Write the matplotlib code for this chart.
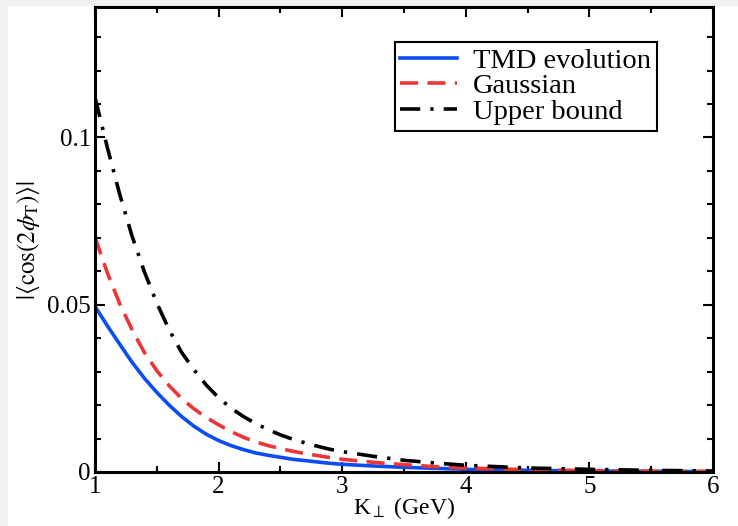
# cos(2phi_T) asymmetry vs K_perp, three curves
import matplotlib
matplotlib.use('Agg')
import matplotlib.pyplot as plt
from matplotlib.patches import Rectangle

plt.rcParams['font.family'] = ['Liberation Serif', 'DejaVu Serif']
plt.rcParams['mathtext.fontset'] = 'stix'

k_perp = [1.0, 1.1, 1.2, 1.3, 1.4, 1.5, 1.6, 1.7, 1.8, 1.9,
          2.0, 2.1, 2.2, 2.3, 2.4, 2.5, 2.6, 2.7, 2.8, 2.9,
          3.0, 3.25, 3.5, 3.75, 4.0, 4.5, 5.0, 5.5, 6.0]
tmd_evolution = [0.0495, 0.0437, 0.0382, 0.0328, 0.0280, 0.0238, 0.0200, 0.0166, 0.0137, 0.0113,
                 0.0094, 0.0079, 0.0067, 0.0057, 0.0050, 0.0044, 0.0038, 0.0034, 0.0030, 0.0026,
                 0.0023, 0.0018, 0.0014, 0.0011, 0.0008, 0.0005, 0.0003, 0.0002, 0.0001]
gaussian = [0.0702, 0.0595, 0.0503, 0.0425, 0.0357, 0.0303, 0.0258, 0.0220, 0.0189, 0.0163,
            0.0141, 0.0121, 0.0104, 0.0090, 0.0079, 0.0070, 0.0062, 0.0055, 0.0049, 0.0043,
            0.0038, 0.0029, 0.0022, 0.0016, 0.0012, 0.0007, 0.0004, 0.00025, 0.00015]
upper_bound = [0.1120, 0.0970, 0.0830, 0.0705, 0.0598, 0.0505, 0.0425, 0.0358, 0.0306, 0.0260,
               0.0222, 0.0191, 0.0166, 0.0145, 0.0127, 0.0111, 0.0098, 0.0087, 0.0077, 0.0068,
               0.0061, 0.0047, 0.0035, 0.0027, 0.0020, 0.0012, 0.0008, 0.0005, 0.0003]

fig = plt.figure(figsize=(7.38, 5.26), dpi=100)
fig.patch.set_facecolor('#f2f2f2')
# white page area (screenshot look)
page = Rectangle((8 / 738, 0), 1, 1 - 6 / 526, transform=fig.transFigure,
                 facecolor='white', edgecolor='none', zorder=-10)
fig.add_artist(page)

ax = fig.add_axes([95 / 738, 54 / 526, 618 / 738, 465 / 526])
ax.set_zorder(1)

ax.plot(k_perp, tmd_evolution, color='#0b4cf5', lw=2.6, label='TMD evolution')
ax.plot(k_perp, gaussian, color='#ee3535', lw=2.6, dashes=(5.0, 2.6), label='Gaussian')
ax.plot(k_perp, upper_bound, color='black', lw=2.6, dashes=(5.6, 2.8, 0.9, 2.8),
        label='Upper bound')

ax.set_xlim(1, 6)
ax.set_ylim(0, 0.139)
ax.set_xticks([1, 2, 3, 4, 5, 6])
ax.set_xticks([1.5, 2.5, 3.5, 4.5, 5.5], minor=True)
ax.set_yticks([0, 0.05, 0.1])
ax.set_yticklabels(['0', '0.05', '0.1'])
ax.set_yticks([i * 0.01 for i in range(1, 14)], minor=True)
ax.tick_params(which='both', direction='in', top=True, right=True, width=1.5,
               labelsize=18)
ax.tick_params(axis='x', pad=3)
ax.tick_params(axis='y', pad=3)
ax.tick_params(which='major', length=7)
ax.tick_params(which='minor', length=4.5)
for s in ax.spines.values():
    s.set_linewidth(2.2)

ax.set_xlabel(r'K$_\perp$ (GeV)', fontsize=17, labelpad=-2)
ax.set_ylabel(r'$|\langle\mathrm{cos(2}\phi_\mathrm{T}\mathrm{)}\rangle|$', fontsize=18,
              labelpad=4)

leg = ax.legend(loc='upper right', bbox_to_anchor=(0.909, 0.925), borderaxespad=0,
                fontsize=20.5, handlelength=2.0, handletextpad=0.55, labelspacing=0.0,
                borderpad=0.2, fancybox=False, framealpha=1)
leg.get_frame().set_edgecolor('black')
leg.get_frame().set_linewidth(1.5)

fig.savefig('out.png', dpi=100, facecolor=fig.get_facecolor())
